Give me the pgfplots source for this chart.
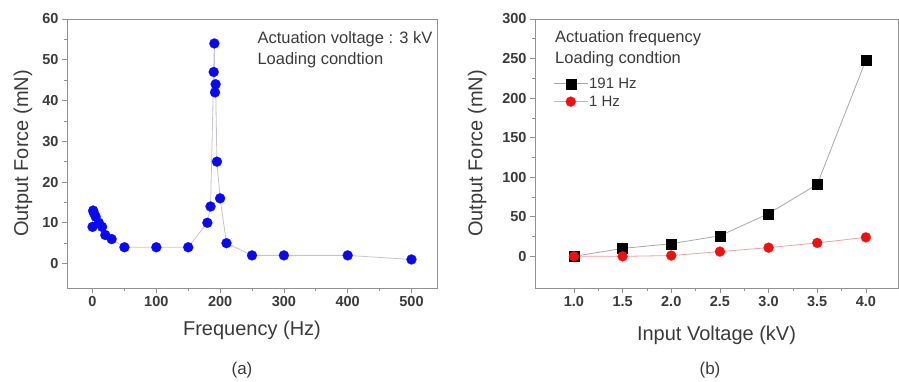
\documentclass[border=0pt]{standalone}
\usepackage{pgfplots}
\pgfplotsset{compat=1.18}
\usepackage{fontspec}
\setmainfont{Liberation Sans}

\definecolor{txt}{HTML}{3A3A3A}
\definecolor{frame}{HTML}{929292}
\definecolor{ptblue}{HTML}{0A0AF0}
\definecolor{ptred}{HTML}{F01010}
\definecolor{lnblue}{HTML}{C4C4CC}
\definecolor{lnblack}{HTML}{A8A8A8}
\definecolor{lnred}{HTML}{F4A0A0}

\pgfplotsset{
  panel/.style={
    scale only axis,
    axis line style={frame, line width=0.8pt},
    tick style={frame, line width=0.7pt},
    major tick length=5pt,
    minor tick length=3pt,
    tick align=outside,
    xtick pos=left, ytick pos=left,
    minor tick num=1,
    /pgf/number format/assume math mode=true,
    ticklabel style={font=\fontsize{14.5}{14.5}\selectfont\bfseries, text=txt},
    label style={font=\fontsize{20}{20}\selectfont, text=txt},
    clip=false,
  },
}

\begin{document}
\begin{tikzpicture}
\path[use as bounding box] (0pt,0pt) rectangle (899pt,382pt);

% ---------------- (a) force versus frequency ----------------
\begin{axis}[panel,
  at={(67pt,94pt)}, anchor=south west,
  width=370pt, height=269pt,
  xmin=-40, xmax=540, ymin=-6, ymax=60,
  xtick={0,100,...,500}, ytick={0,10,...,60},
  xlabel={Frequency (Hz)}, ylabel={Output Force (mN)},
  xlabel style={at={(axis description cs:0.5,-0.156)}, anchor=center},
  ylabel style={at={(axis description cs:-0.119,0.5)}, anchor=center},
]
\addplot[color=lnblue, line width=0.8pt, mark=*, mark size=5pt,
  mark options={draw=ptblue, fill=ptblue, line width=0.2pt}] coordinates {
  (0,9) (1,13) (2,12.5) (5,11.5) (10,10) (15,9) (20,7) (30,6)
  (50,4) (100,4) (150,4) (180,10) (185,14) (190,47) (191,54)
  (192,42) (193,44) (195,25) (200,16) (210,5) (250,2) (300,2)
  (400,2) (500,1)
};
\end{axis}
\node[anchor=base west, text=txt, font=\fontsize{16.5}{16.5}\selectfont] at (254pt,338pt) {Actuation voltage : 3 kV};
\node[anchor=base west, text=txt, font=\fontsize{16.5}{16.5}\selectfont] at (254pt,317pt) {Loading condtion};
\node[text=txt, font=\fontsize{17}{17}\selectfont] at (242pt,12pt) {(a)};

% ---------------- (b) force versus input voltage ----------------
\begin{axis}[panel,
  at={(535pt,94pt)}, anchor=south west,
  width=363pt, height=269pt,
  xmin=0.6, xmax=4.33, ymin=-40, ymax=300,
  xtick={1.0,1.5,...,4.0}, ytick={0,50,...,300},
  xticklabel style={/pgf/number format/.cd, fixed, fixed zerofill, precision=1},
  xlabel={Input Voltage (kV)}, ylabel={Output Force (mN)},
  xlabel style={at={(axis description cs:0.5,-0.175)}, anchor=center},
  ylabel style={at={(axis description cs:-0.159,0.5)}, anchor=center},
  legend style={at={(axis description cs:0.05,0.786)}, anchor=north west,
    draw=none, fill=none, inner sep=0pt, row sep=4pt,
    font=\fontsize{15}{15}\selectfont, text=txt,
    nodes={inner sep=1pt}},
  legend cell align=left,
  legend image code/.code={%
    \draw[mark repeat=2, mark phase=2] plot coordinates {(0pt,0pt) (17pt,0pt) (34pt,0pt)};},
]
\addplot[color=lnblack, line width=0.8pt, mark=square*, mark size=5pt,
  mark options={draw=black, fill=black, line width=0.2pt}] coordinates {
  (1.0,0) (1.5,10) (2.0,16) (2.5,26) (3.0,54) (3.5,91) (4.0,248)
};
\addlegendentry{191 Hz}
\addplot[color=lnred, line width=0.8pt, mark=*, mark size=5pt,
  mark options={draw=ptred, fill=ptred, line width=0.2pt}] coordinates {
  (1.0,0) (1.5,0) (2.0,1) (2.5,6) (3.0,11) (3.5,17) (4.0,24)
};
\addlegendentry{1 Hz}
\end{axis}
\node[anchor=base west, text=txt, font=\fontsize{16.5}{16.5}\selectfont] at (551.7pt,339.3pt) {Actuation frequency};
\node[anchor=base west, text=txt, font=\fontsize{16.5}{16.5}\selectfont] at (551.7pt,318.7pt) {Loading condtion};
\node[text=txt, font=\fontsize{17}{17}\selectfont] at (710pt,12pt) {(b)};
\end{tikzpicture}
\end{document}
